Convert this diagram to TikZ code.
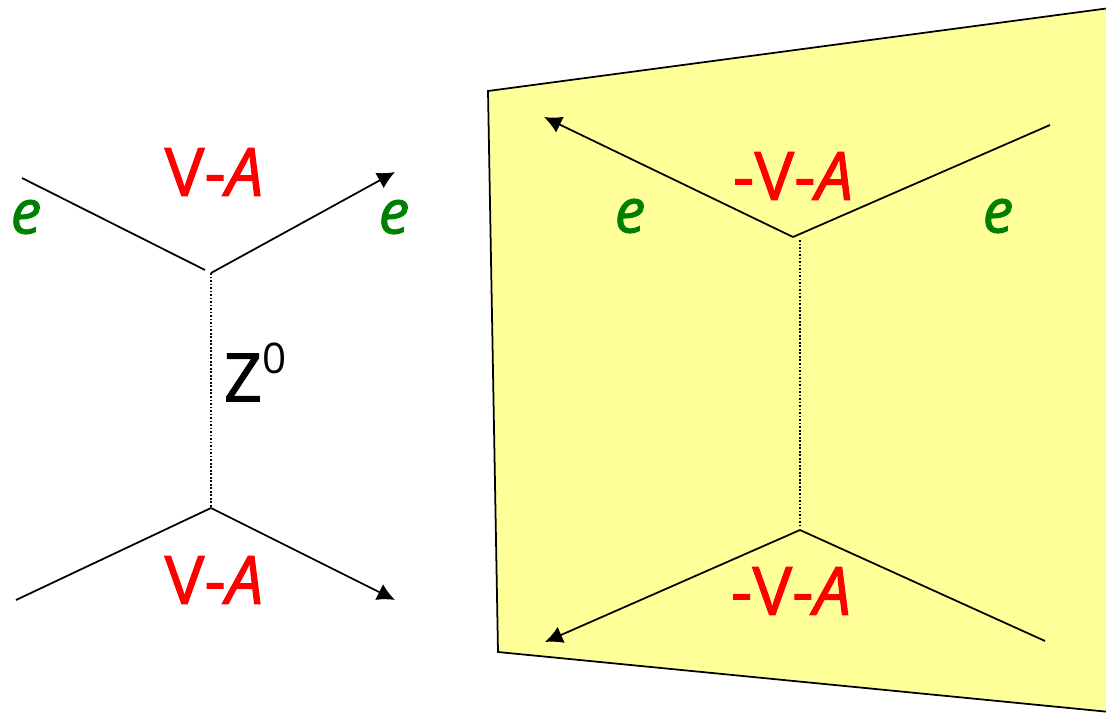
\documentclass[tikz,border=0pt]{standalone}
\usepackage{fontspec}
\setmainfont{Open Sans}
\newfontfamily\labelfont[FakeBold=1.6]{Open Sans}
\newfontfamily\plainfont{Open Sans}
\usetikzlibrary{arrows.meta}
\definecolor{panel}{HTML}{FFFF99}
\definecolor{leptongreen}{HTML}{008000}
\tikzset{
    line/.style={black, line width=1pt},
    fermion/.style={line, -{Latex[length=10pt, width=10pt]}},
    boson/.style={black, line width=1pt, densely dotted},
    coupling/.style={red, font=\fontsize{38}{38}\labelfont, inner sep=0pt},
    lepton/.style={leptongreen, font=\fontsize{35}{35}\labelfont\itshape, inner sep=0pt},
}
\begin{document}
\begin{tikzpicture}[x=0.02cm, y=-0.02cm]
    \useasboundingbox (0,0) rectangle (1106,714);
    % mirrored panel
    \begin{scope}
        \clip (0,0) rectangle (1106,714);
        \draw[line, fill=panel] (488,91) -- (1110,8) -- (1110,712) -- (498,652) -- cycle;
    \end{scope}
    % left diagram
    \coordinate (inL1) at (22,178);
    \coordinate (vtxL1a) at (205,270);
    \coordinate (vtxL1) at (211,273);
    \coordinate (outL1) at (395,172);
    \coordinate (vtxL2) at (211,508);
    \coordinate (inL2) at (16,600);
    \coordinate (outL2) at (395,600);
    \draw[line] (inL1) -- (vtxL1a);
    \draw[fermion] (vtxL1) -- (outL1);
    \draw[boson] (vtxL1) -- (vtxL2);
    \draw[line] (inL2) -- (vtxL2);
    \draw[fermion] (vtxL2) -- (outL2);
    % right diagram
    \coordinate (vtxR1a) at (793,237);
    \coordinate (vtxR1) at (800,240);
    \coordinate (outR1) at (544,117);
    \coordinate (inR1) at (1050,125);
    \coordinate (vtxR2a) at (800,527);
    \coordinate (vtxR2) at (800,530);
    \coordinate (outR2) at (545,642);
    \coordinate (inR2) at (1045,641);
    \draw[fermion] (vtxR1a) -- (outR1);
    \draw[line] (vtxR1a) -- (inR1);
    \draw[boson] (vtxR1) -- (vtxR2a);
    \draw[fermion] (vtxR2) -- (outR2);
    \draw[line] (vtxR2) -- (inR2);
    % labels
    \node[coupling] (vaL1) at (214,172) {V-\textit{A}};
    \node[coupling] (vaL2) at (214,580) {V-\textit{A}};
    \node[coupling] (vaR1) at (793,176) {-V-\textit{A}};
    \node[coupling] (vaR2) at (791,591) {-V-\textit{A}};
    \node[lepton] (eL1) at (26,217) {e};
    \node[lepton] (eL2) at (394,217) {e};
    \node[lepton] (eR1) at (630,216) {e};
    \node[lepton] (eR2) at (998,216) {e};
    \node[inner sep=0pt, font=\fontsize{38}{38}\labelfont] (zzero) at (255,372) {Z\raisebox{0.42em}{\fontsize{24}{24}\plainfont 0}};
\end{tikzpicture}
\end{document}
